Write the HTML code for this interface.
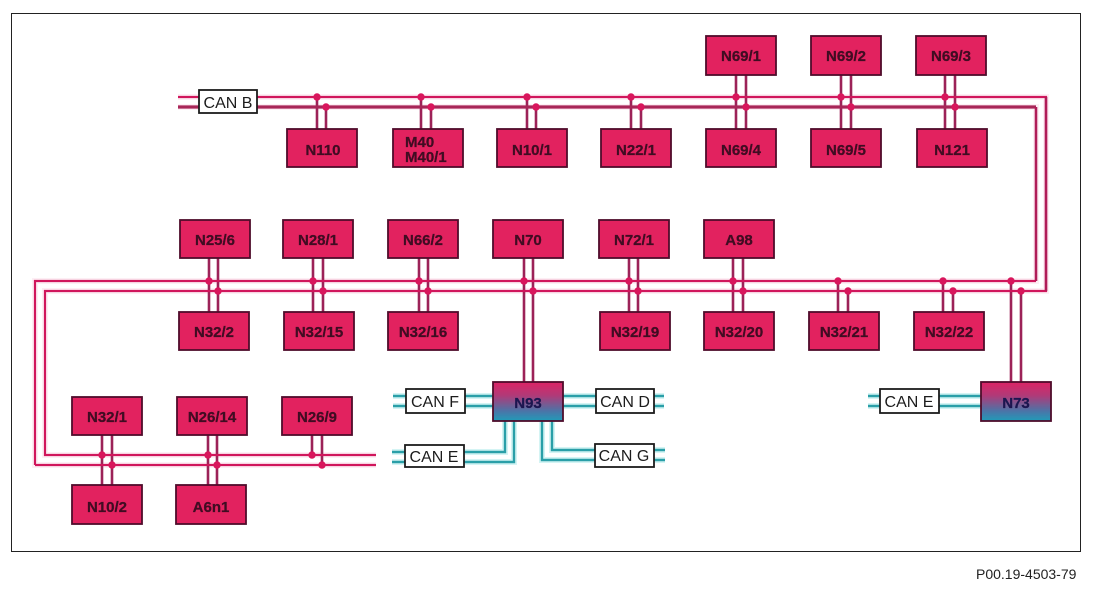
<!DOCTYPE html>
<html><head><meta charset="utf-8"><style>
html,body{margin:0;padding:0;background:#fff}
svg{display:block}
text{font-family:"Liberation Sans",sans-serif}
.n rect{fill:#e2205f;stroke:#4f0c2c;stroke-width:1.8}
.n text{font-size:15px;font-weight:bold;fill:#3f0822;text-anchor:middle;stroke:#3f0822;stroke-width:.25}
.c rect{fill:#fff;stroke:#1c1c1c;stroke-width:1.8}
.c text{font-size:16px;fill:#1c1c1c;text-anchor:middle}
</style></head><body>
<svg width="1094" height="590" viewBox="0 0 1094 590" xmlns="http://www.w3.org/2000/svg">
<defs>
<linearGradient id="g" x1="0" y1="0" x2="0" y2="1"><stop offset="0" stop-color="#dc2465"/><stop offset=".35" stop-color="#b03a78"/><stop offset=".75" stop-color="#4a75a8"/><stop offset="1" stop-color="#1f9cb8"/></linearGradient>
<filter id="b" x="-2%" y="-2%" width="104%" height="104%"><feGaussianBlur stdDeviation="0.35"/></filter>
</defs>
<g filter="url(#b)">
<rect x="11.5" y="13.5" width="1069" height="538" fill="#fff" stroke="#222" stroke-width="1"/>

<!-- cyan buses -->
<g fill="none" stroke="#d4f4f4" stroke-width="6">
<path d="M393 396H493M393 406H493M563 396H664M563 406H664M392 452H505V421M392 462H514V421M552 421V450H665M542 421V460H665M868 396H981M868 406H981"/>
</g>
<g fill="none" stroke="#2a9fa8" stroke-width="2.4">
<path d="M393 396H493M393 406H493M563 396H664M563 406H664M392 452H505V421M392 462H514V421M552 421V450H665M542 421V460H665M868 396H981M868 406H981"/>
</g>

<!-- bus halo -->
<g fill="none" stroke="#fdeef4" stroke-width="6">
<path d="M178 97H1046V291H45V455H376"/>
<path d="M178 107H1036V281H35V465H376"/>
</g>
<!-- stems -->
<g fill="none" stroke="#9c2458" stroke-width="2.6">
<path d="M317 97V129M326 107V129M421 97V129M431 107V129M527 97V129M536 107V129M631 97V129M641 107V129"/>
<path d="M736 75V129M746 75V129M841 75V129M851 75V129M945 75V129M955 75V129"/>
<path d="M209 258V312M218 258V312M313 258V312M323 258V312M419 258V312M428 258V312M524 258V382M533 258V382M629 258V312M638 258V312M733 258V312M743 258V312"/>
<path d="M838 281V312M848 291V312M943 281V312M953 291V312"/>
<path d="M1011 281V382M1021 291V382"/>
<path d="M102 435V485M112 435V485M208 435V485M217 435V485M312 435V455M322 435V465"/>
</g>
<!-- buses -->
<g fill="none" stroke="#d0185c" stroke-width="2.2">
<path d="M178 97H1046V291H45V455H376"/>
<path d="M35 465V281H1036"/>
<path d="M35 465H376"/>
</g>
<path d="M178 107H1036" fill="none" stroke="#a82558" stroke-width="3.2"/>
<path d="M1036 107V281M1046 97V291" fill="none" stroke="#b01f58" stroke-width="2.6"/>

<!-- dots -->
<g fill="#d8145c">
<circle cx="317" cy="97" r="3.7"/><circle cx="326" cy="107" r="3.7"/><circle cx="421" cy="97" r="3.7"/><circle cx="431" cy="107" r="3.7"/><circle cx="527" cy="97" r="3.7"/><circle cx="536" cy="107" r="3.7"/><circle cx="631" cy="97" r="3.7"/><circle cx="641" cy="107" r="3.7"/><circle cx="736" cy="97" r="3.7"/><circle cx="746" cy="107" r="3.7"/><circle cx="841" cy="97" r="3.7"/><circle cx="851" cy="107" r="3.7"/><circle cx="945" cy="97" r="3.7"/><circle cx="955" cy="107" r="3.7"/>
<circle cx="209" cy="281" r="3.7"/><circle cx="218" cy="291" r="3.7"/><circle cx="313" cy="281" r="3.7"/><circle cx="323" cy="291" r="3.7"/><circle cx="419" cy="281" r="3.7"/><circle cx="428" cy="291" r="3.7"/><circle cx="524" cy="281" r="3.7"/><circle cx="533" cy="291" r="3.7"/><circle cx="629" cy="281" r="3.7"/><circle cx="638" cy="291" r="3.7"/><circle cx="733" cy="281" r="3.7"/><circle cx="743" cy="291" r="3.7"/><circle cx="838" cy="281" r="3.7"/><circle cx="848" cy="291" r="3.7"/><circle cx="943" cy="281" r="3.7"/><circle cx="953" cy="291" r="3.7"/><circle cx="1011" cy="281" r="3.7"/><circle cx="1021" cy="291" r="3.7"/>
<circle cx="102" cy="455" r="3.7"/><circle cx="112" cy="465" r="3.7"/><circle cx="208" cy="455" r="3.7"/><circle cx="217" cy="465" r="3.7"/><circle cx="312" cy="455" r="3.7"/><circle cx="322" cy="465" r="3.7"/>
</g>

<!-- nodes -->
<g class="n">
<rect x="706" y="36" width="70" height="39"/><text x="741" y="61">N69/1</text>
<rect x="811" y="36" width="70" height="39"/><text x="846" y="61">N69/2</text>
<rect x="916" y="36" width="70" height="39"/><text x="951" y="61">N69/3</text>

<rect x="287" y="129" width="70" height="38"/><text x="323" y="155">N110</text>
<rect x="393" y="129" width="70" height="38"/><text x="405" y="147" style="text-anchor:start">M40</text><text x="405" y="162" style="text-anchor:start">M40/1</text>
<rect x="497" y="129" width="70" height="38"/><text x="532" y="155">N10/1</text>
<rect x="601" y="129" width="70" height="38"/><text x="636" y="155">N22/1</text>
<rect x="706" y="129" width="70" height="38"/><text x="741" y="155">N69/4</text>
<rect x="811" y="129" width="70" height="38"/><text x="846" y="155">N69/5</text>
<rect x="917" y="129" width="70" height="38"/><text x="952" y="155">N121</text>

<rect x="180" y="220" width="70" height="38"/><text x="215" y="245">N25/6</text>
<rect x="283" y="220" width="70" height="38"/><text x="318" y="245">N28/1</text>
<rect x="388" y="220" width="70" height="38"/><text x="423" y="245">N66/2</text>
<rect x="493" y="220" width="70" height="38"/><text x="528" y="245">N70</text>
<rect x="599" y="220" width="70" height="38"/><text x="634" y="245">N72/1</text>
<rect x="704" y="220" width="70" height="38"/><text x="739" y="245">A98</text>

<rect x="179" y="312" width="70" height="38"/><text x="214" y="337">N32/2</text>
<rect x="284" y="312" width="70" height="38"/><text x="319" y="337">N32/15</text>
<rect x="388" y="312" width="70" height="38"/><text x="423" y="337">N32/16</text>
<rect x="600" y="312" width="70" height="38"/><text x="635" y="337">N32/19</text>
<rect x="704" y="312" width="70" height="38"/><text x="739" y="337">N32/20</text>
<rect x="809" y="312" width="70" height="38"/><text x="844" y="337">N32/21</text>
<rect x="914" y="312" width="70" height="38"/><text x="949" y="337">N32/22</text>

<rect x="72" y="397" width="70" height="38"/><text x="107" y="422">N32/1</text>
<rect x="177" y="397" width="70" height="38"/><text x="212" y="422">N26/14</text>
<rect x="282" y="397" width="70" height="38"/><text x="317" y="422">N26/9</text>
<rect x="72" y="485" width="70" height="39"/><text x="107" y="512">N10/2</text>
<rect x="176" y="485" width="70" height="39"/><text x="211" y="512">A6n1</text>

<rect x="493" y="382" width="70" height="39" style="fill:url(#g)"/><text x="528" y="408" style="fill:#1c1650;stroke:#1c1650">N93</text>
<rect x="981" y="382" width="70" height="39" style="fill:url(#g)"/><text x="1016" y="408" style="fill:#1c1650;stroke:#1c1650">N73</text>
</g>

<!-- CAN labels -->
<g class="c">
<rect x="199" y="90" width="58" height="23"/><text x="228" y="108">CAN B</text>
<rect x="406" y="389" width="59" height="24"/><text x="435" y="407">CAN F</text>
<rect x="596" y="389" width="58" height="24"/><text x="625" y="407">CAN D</text>
<rect x="405" y="445" width="59" height="22"/><text x="434" y="462">CAN E</text>
<rect x="595" y="444" width="59" height="23"/><text x="624" y="461">CAN G</text>
<rect x="880" y="389" width="59" height="24"/><text x="909" y="407">CAN E</text>
</g>

<text x="976" y="579" font-size="14" fill="#222">P00.19-4503-79</text>
</g>
</svg>
</body></html>
